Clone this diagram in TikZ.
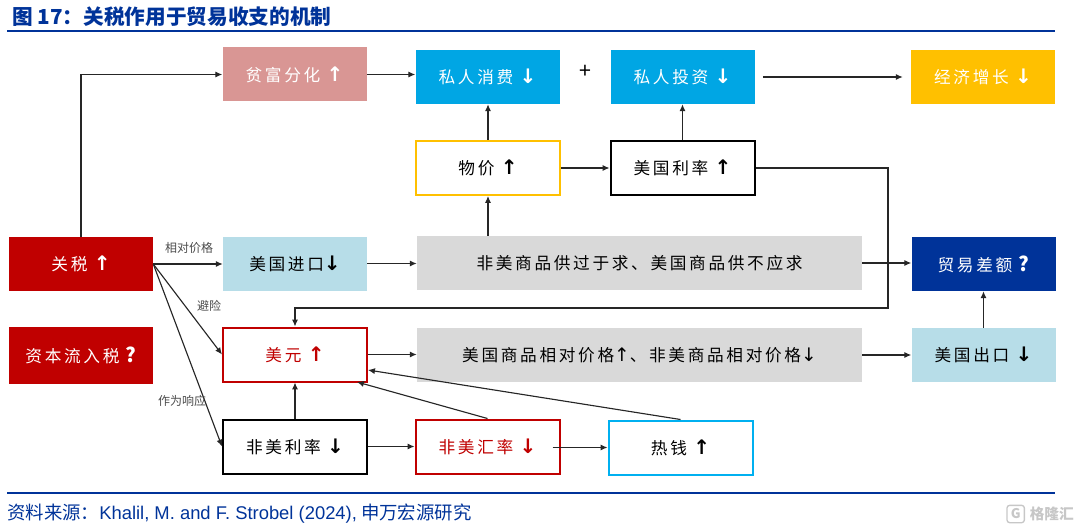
\documentclass[tikz,border=0pt]{standalone}
\usepackage{fontspec}
\setmainfont{Noto Sans CJK SC}
\newfontfamily\boxfont[LetterSpace=16]{Noto Sans CJK SC}
\newfontfamily\wordfont{Liberation Sans}
\newfontfamily\arrowfont{DejaVu Sans}
\usetikzlibrary{arrows.meta}
\definecolor{navy}{HTML}{003399}
\definecolor{tariffred}{HTML}{C00000}
\definecolor{seablue}{HTML}{00A6E4}
\definecolor{paleblue}{HTML}{B7DDE8}
\definecolor{skyline}{HTML}{00B0F0}
\definecolor{rose}{HTML}{D99694}
\definecolor{amber}{HTML}{FFC000}
\definecolor{greybar}{HTML}{D9D9D9}
\definecolor{linkgrey}{HTML}{262626}
\newcommand{\upar}{{\arrowfont\bfseries\fontsize{15}{15}\selectfont ↑}}
\newcommand{\downar}{{\arrowfont\bfseries\fontsize{15}{15}\selectfont ↓}}
\newcommand{\askmark}{{\bfseries\fontsize{15}{15}\selectfont ?}}
\tikzset{
	box/.style={minimum width=144*0.75pt, minimum height=54*0.75pt, inner sep=0pt, font=\boxfont\fontsize{12.5}{14}\selectfont},
	solidbox/.style={box, fill=#1, text=white},
	framebox/.style={box, draw=#1, line width=1.5pt, fill=white},
	link/.style={-{Latex[length=5.2pt, width=4.6pt]}, draw=linkgrey, line width=0.85pt},
	tag/.style={font=\fontsize{9}{11}\selectfont, text=black!70},
	rule/.style={draw=navy, line width=1.8pt}
}
\begin{document}
\begin{tikzpicture}[x=0.75pt, y=-0.75pt]
	\useasboundingbox (0,0) rectangle (1080,531);

	% heading and foot
	\node [anchor=west, inner sep=0pt, text=navy, font=\fontsize{15.5}{18}\selectfont\bfseries] (title) at (12,17) {图 17：关税作用于贸易收支的机制};
	\coordinate (ruleA) at (7,31);
	\coordinate (ruleB) at (1055,31);
	\draw [rule] (ruleA) -- (ruleB);
	\coordinate (ruleC) at (7,493);
	\coordinate (ruleD) at (1055,493);
	\draw [rule] (ruleC) -- (ruleD);
	\node [anchor=west, inner sep=0pt, text=navy, font=\fontsize{13.8}{16}\selectfont] (source) at (7,514) {资料来源：{\wordfont Khalil, M. and F. Strobel (2024),} 申万宏源研究};
	\node [anchor=east, inner sep=0pt, text=black!22, font=\fontsize{11}{13}\selectfont\bfseries] (mark) at (1074,514) {格隆汇};
	\node [anchor=east, draw=black!22, line width=1pt, rounded corners=2pt, minimum size=13pt, inner sep=0pt, text=black!22, font=\fontsize{10}{12}\selectfont\bfseries] (logo) at (1025,514) {G};

	% top row
	\node [solidbox=rose] (wealth) at (294.5,74.5) {贫富分化 \upar};
	\node [solidbox=seablue] (consume) at (487.5,77) {私人消费 \downar};
	\node [font=\fontsize{16}{18}\selectfont] (plus) at (585,72) {+};
	\node [solidbox=seablue] (invest) at (682.5,77) {私人投资 \downar};
	\node [solidbox=amber] (growth) at (983,77) {经济增长 \downar};

	% second row
	\node [framebox=amber] (price) at (488,168) {物价 \upar};
	\node [framebox=black] (usrate) at (682.5,168) {美国利率 \upar};

	% middle row
	\node [solidbox=tariffred] (tariff) at (81,264) {关税 \upar};
	\node [box, fill=paleblue] (imports) at (295,263.5) {美国进口\downar};
	\node [box, fill=greybar, minimum width=445*0.75pt] (glut) at (639.5,263) {非美商品供过于求、美国商品供不应求};
	\node [solidbox=navy] (deficit) at (983.5,264) {贸易差额 \askmark};

	% lower row
	\node [solidbox=tariffred, minimum height=57*0.75pt] (captax) at (81,355.5) {资本流入税 \askmark};
	\node [framebox=tariffred, text=tariffred] (dollar) at (295,354.5) {美元 \upar};
	\node [box, fill=greybar, minimum width=445*0.75pt] (relprice) at (639.5,355) {美国商品相对价格{\arrowfont\fontsize{14}{14}\selectfont ↑}、非美商品相对价格{\arrowfont\fontsize{14}{14}\selectfont ↓}};
	\node [box, fill=paleblue] (exports) at (983.5,355) {美国出口 \downar};

	% bottom row
	\node [framebox=black] (nonrate) at (295,446.5) {非美利率 \downar};
	\node [framebox=tariffred, text=tariffred] (nonfx) at (487.5,446.5) {非美汇率 \downar};
	\node [framebox=skyline] (hotcash) at (680.5,447.5) {热钱 \upar};

	% links along the top
	\draw [link] (tariff.north) |- (wealth.west);
	\draw [link] (wealth.east) -- (wealth.east -| consume.west);
	\draw [link] (price.north) -- (consume.south -| price.north);
	\draw [link] (usrate.north) -- (invest.south);
	\draw [link, shorten <=6pt, shorten >=6pt] (invest.east) -- (growth.west);
	\draw [link] (glut.north -| price.south) -- (price.south);
	\draw [link] (price.east) -- (usrate.west);

	% rate feeds back to the dollar
	\coordinate (turnA) at (888,168);
	\coordinate (turnB) at (888,308);
	\draw [link] (usrate.east) -- (turnA) -- (turnB) -- (turnB -| dollar.north) -- (dollar.north);

	% links from the tariff
	\draw [link] (tariff.east) -- (tariff.east -| imports.west);
	\draw [link] (tariff.east) -- (dollar.west);
	\draw [link] (tariff.east) -- (nonrate.west);
	\node [tag] (tagprice) at (189,248) {相对价格};
	\node [tag] (tagsafe) at (209,306) {避险};
	\node [tag] (tagreply) at (182,401) {作为响应};

	% links to the deficit
	\draw [link] (imports.east) -- (imports.east -| glut.west);
	\draw [link] (glut.east) -- (glut.east -| deficit.west);
	\draw [link] (exports.north) -- (deficit.south);
	\draw [link] (dollar.east) -- (dollar.east -| relprice.west);
	\draw [link] (relprice.east) -- (exports.west);

	% links in the bottom row
	\draw [link] (nonrate.north) -- (dollar.south);
	\draw [link] (nonrate.east) -- (nonfx.west);
	\draw [link, shorten <=-6pt] (nonfx.east |- hotcash.west) -- (hotcash.west);
	\coordinate (dollarA) at (357,382);
	\coordinate (dollarB) at (368,370);
	\draw [link] (nonfx.north) -- (dollarA);
	\draw [link] (hotcash.north) -- (dollarB);
\end{tikzpicture}
\end{document}
